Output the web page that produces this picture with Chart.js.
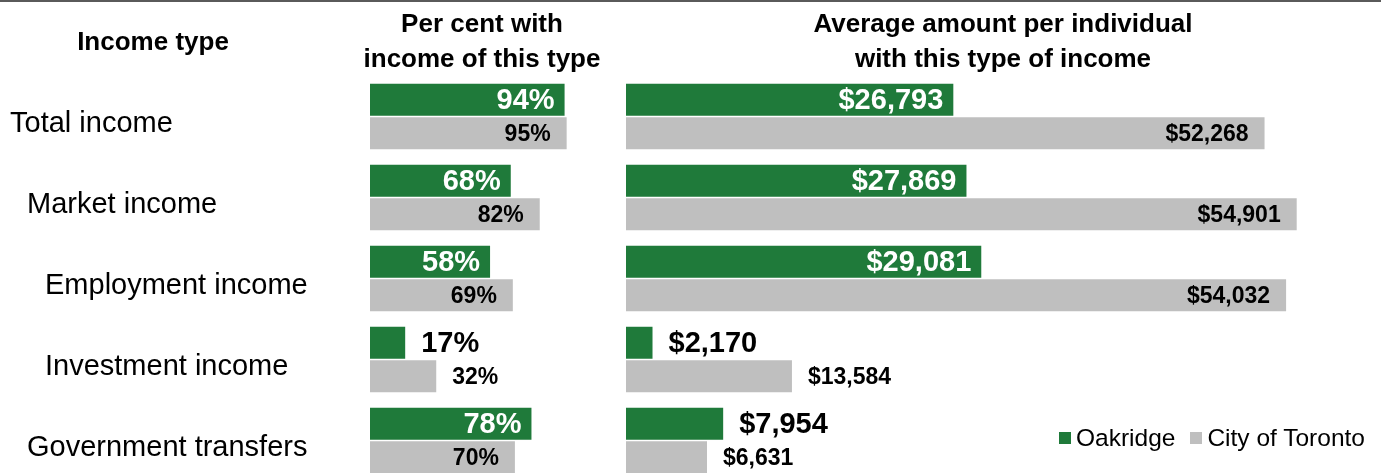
<!DOCTYPE html>
<html>
<head>
<meta charset="utf-8">
<script src="https://cdn.jsdelivr.net/npm/chart.js@4"></script>
<style>
  body { margin: 0; background: #fff; font-family: Arial, "Liberation Sans", sans-serif; }
  #wrap { position: relative; width: 1381px; height: 473px; overflow: hidden; border-top: 2px solid #5a5a5a; box-sizing: border-box; }
  canvas { position: absolute; top: 0; }
  .head { position: absolute; font-weight: bold; font-size: 26px; line-height: 35px; text-align: center; color: #000; }
  #legend { position: absolute; left: 1059px; top: 422px; font-size: 24.5px; color: #000; display: flex; align-items: center; }
  #legend span.box { display: inline-block; width: 12px; height: 12px; margin-right: 5px; }
  #legend span.item { margin-right: 15px; display: flex; align-items: center; }
</style>
</head>
<body>
<div id="wrap">
  <canvas id="pct" width="600" height="490" style="left:0"></canvas>
  <canvas id="amt" width="781" height="490" style="left:600px"></canvas>
  <div class="head" style="left:53px; top:22px; width:200px;">Income type</div>
  <div class="head" style="left:332px; top:4px; width:300px;">Per cent with<br>income of this type</div>
  <div class="head" style="left:803px; top:4px; width:400px;">Average amount per individual<br>with this type of income</div>
  <div id="legend"></div>
</div>
<script>
const categories = ['Total income', 'Market income', 'Employment income', 'Investment income', 'Government transfers'];
const seriesNames = ['Oakridge', 'City of Toronto'];
const oakridgePct = [94, 68, 58, 17, 78];
const torontoPct = [95, 82, 69, 32, 70];
const oakridgeAmt = [26793, 27869, 29081, 2170, 7954];
const torontoAmt = [52268, 54901, 54032, 13584, 6631];

const GREEN = '#1f7a3a';
const GRAY = '#bfbfbf';
const FONT = 'Arial, "Liberation Sans", sans-serif';
// left edge of each category name (the original staggers them)
const labelIndent = [10, 27, 45, 45, 27];

const barLabels = {
  id: 'barLabels',
  afterDatasetsDraw(chart, args, opts) {
    const ctx = chart.ctx;
    const max = chart.scales.x.max;
    ctx.save();
    ctx.textBaseline = 'middle';
    chart.data.datasets.forEach((ds, di) => {
      const meta = chart.getDatasetMeta(di);
      meta.data.forEach((bar, i) => {
        const v = ds.data[i];
        const txt = opts.format(v);
        const inside = v / max > 0.4;
        ctx.font = 'bold ' + (di === 0 ? 29 : 23) + 'px ' + FONT;
        if (inside) {
          ctx.textAlign = 'right';
          ctx.fillStyle = di === 0 ? '#fff' : '#000';
          ctx.fillText(txt, bar.x - (di === 0 ? 10 : 16), bar.y + 1);
        } else {
          ctx.textAlign = 'left';
          ctx.fillStyle = '#000';
          ctx.fillText(txt, bar.x + 16, bar.y + 1);
        }
      });
    });
    ctx.restore();
  }
};

const categoryNames = {
  id: 'categoryNames',
  afterDraw(chart) {
    if (chart.canvas.id !== 'pct') return;
    const ctx = chart.ctx;
    const y = chart.scales.y;
    ctx.save();
    ctx.font = '29px ' + FONT;
    ctx.fillStyle = '#000';
    ctx.textAlign = 'left';
    ctx.textBaseline = 'alphabetic';
    categories.forEach((c, i) => {
      ctx.fillText(c, labelIndent[i], y.getPixelForValue(i) + 15);
    });
    ctx.restore();
  }
};

function makeChart(id, a, b, max, pad, fmt) {
  return new Chart(document.getElementById(id), {
    type: 'bar',
    data: {
      labels: categories,
      datasets: [
        { label: seriesNames[0], data: a, backgroundColor: GREEN, categoryPercentage: 0.827, barPercentage: 0.955 },
        { label: seriesNames[1], data: b, backgroundColor: GRAY, categoryPercentage: 0.827, barPercentage: 0.955 }
      ]
    },
    options: {
      indexAxis: 'y',
      responsive: false,
      animation: false,
      layout: { padding: pad },
      scales: {
        x: { display: false, min: 0, max: max },
        y: { display: false }
      },
      plugins: {
        legend: { display: false },
        tooltip: { enabled: false },
        barLabels: { format: fmt }
      }
    },
    plugins: [barLabels, categoryNames]
  });
}

makeChart('pct', oakridgePct, torontoPct, 100,
  { left: 370, right: 23, top: 74, bottom: 11 }, v => v + '%');
makeChart('amt', oakridgeAmt, torontoAmt, 60000,
  { left: 26, right: 22, top: 74, bottom: 11 }, v => '$' + v.toLocaleString('en-US'));

const legend = document.getElementById('legend');
[[seriesNames[0], GREEN], [seriesNames[1], GRAY]].forEach(([name, col]) => {
  const item = document.createElement('span');
  item.className = 'item';
  item.innerHTML = '<span class="box" style="background:' + col + '"></span>' + name;
  legend.appendChild(item);
});
</script>
</body>
</html>
